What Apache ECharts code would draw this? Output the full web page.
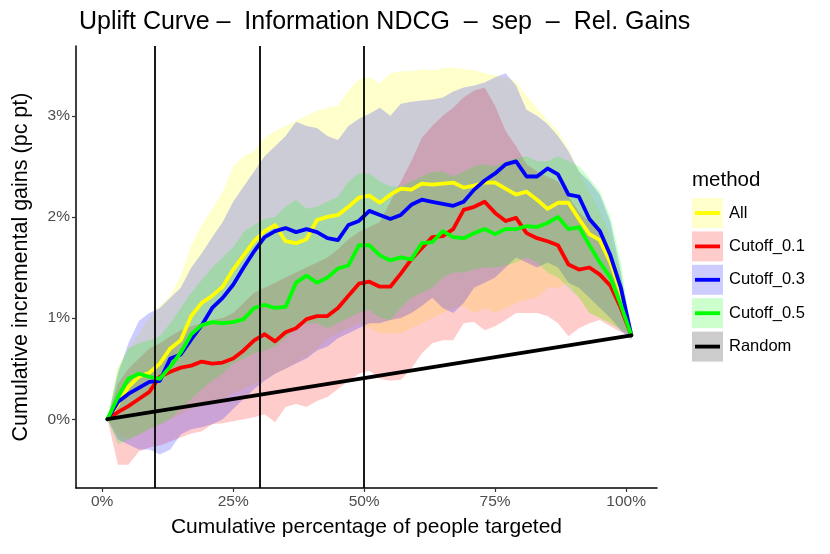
<!DOCTYPE html>
<html><head><meta charset="utf-8">
<script src="https://cdn.jsdelivr.net/npm/echarts@6/dist/echarts.min.js"></script>
<style>html,body{margin:0;padding:0;background:#fff}#c{width:830px;height:554px}</style>
</head><body><div id="c"></div>
<script>
// x positions (percentage of people targeted)
const xs = [1,3,5,7,9,11,13,15,17,19,21,23,25,27,29,31,33,35,37,39,41,43,45,47,49,51,53,55,57,59,61,63,65,67,69,71,73,75,77,79,81,83,85,87,89,91,93,95,97,99,101];

// central lines (cumulative incremental gains, %)
const allLine = [0.00,0.15,0.32,0.42,0.46,0.55,0.70,0.78,1.02,1.15,
 1.22,1.31,1.48,1.62,1.76,1.86,1.92,1.76,1.74,1.78,
 1.97,2.00,2.02,2.10,2.19,2.21,2.14,2.22,2.28,2.27,
 2.33,2.32,2.33,2.34,2.29,2.31,2.34,2.34,2.28,2.22,
 2.25,2.17,2.08,2.14,2.14,1.98,1.83,1.77,1.55,1.25,
 0.83];
const cut01Line = [0.00,0.07,0.13,0.20,0.27,0.42,0.47,0.51,0.53,0.57,
 0.55,0.56,0.60,0.68,0.78,0.84,0.77,0.86,0.90,0.99,
 1.02,1.02,1.10,1.22,1.34,1.36,1.31,1.31,1.44,1.58,
 1.69,1.80,1.81,1.88,2.07,2.10,2.15,2.04,1.96,1.99,
 1.84,1.79,1.76,1.72,1.53,1.48,1.50,1.43,1.32,1.10,
 0.83];
const cut03Line = [0.00,0.17,0.25,0.31,0.37,0.38,0.60,0.64,0.79,0.93,
 1.10,1.20,1.33,1.50,1.66,1.80,1.86,1.89,1.85,1.88,
 1.85,1.79,1.77,1.92,1.96,2.06,2.02,1.98,2.02,2.12,
 2.17,2.15,2.13,2.11,2.15,2.27,2.36,2.43,2.52,2.55,
 2.40,2.40,2.48,2.42,2.22,2.20,1.98,1.86,1.62,1.30,
 0.83];
const cut05Line = [0.00,0.22,0.40,0.45,0.42,0.40,0.52,0.66,0.84,0.93,
 0.96,0.95,0.96,0.99,1.10,1.13,1.10,1.11,1.35,1.42,
 1.35,1.40,1.49,1.52,1.72,1.72,1.62,1.57,1.60,1.58,
 1.74,1.75,1.86,1.80,1.79,1.84,1.88,1.83,1.88,1.88,
 1.91,1.90,1.94,2.00,1.88,1.90,1.72,1.55,1.40,1.13,
 0.83];

// confidence ribbons (lower / upper)
const allLo = [0,-0.15,-0.2,-0.15,-0.1,-0.05,0.0,0.05,0.1,0.15,
 0.18,0.2,0.26,0.3,0.35,0.39,0.45,0.5,0.56,0.62,
 0.7,0.8,0.85,0.9,0.95,0.9,0.85,0.85,0.85,0.9,
 0.95,1.0,1.05,1.1,1.12,1.05,1.1,1.05,1.1,1.15,
 1.18,1.2,1.3,1.3,1.35,1.2,1.05,1.0,0.95,0.9,
 0.83];
const allHi = [0,0.5,0.7,0.85,1.0,1.12,1.22,1.42,1.72,1.92,
 2.08,2.25,2.5,2.6,2.65,2.78,2.85,2.9,2.95,3.0,
 3.05,3.08,3.1,3.25,3.36,3.38,3.32,3.42,3.44,3.44,
 3.46,3.45,3.47,3.48,3.46,3.45,3.42,3.4,3.38,3.34,
 3.2,3.08,2.95,2.85,2.68,2.45,2.25,2.05,1.82,1.42,
 0.83];
const cut01Lo = [0,-0.45,-0.45,-0.32,-0.28,-0.26,-0.22,-0.18,-0.14,-0.12,
 -0.05,-0.04,-0.02,0.0,0.02,0.05,-0.03,0.12,0.15,0.12,
 0.18,0.22,0.3,0.38,0.45,0.48,0.4,0.38,0.39,0.5,
 0.65,0.75,0.78,0.78,0.95,0.96,0.88,0.92,0.98,1.05,
 1.05,1.05,1.02,0.95,0.82,0.9,0.95,0.98,0.92,0.86,
 0.83];
const cut01Hi = [0,0.35,0.5,0.6,0.7,0.75,0.82,0.88,0.92,0.95,
 0.98,1.0,1.05,1.15,1.25,1.3,1.35,1.4,1.45,1.5,
 1.55,1.6,1.68,1.78,1.85,1.9,1.95,2.15,2.35,2.55,
 2.78,2.9,3.0,3.08,3.18,3.25,3.28,3.1,2.85,2.7,
 2.52,2.45,2.4,2.35,2.2,2.05,1.95,1.85,1.65,1.3,
 0.83];
const cut03Lo = [0,-0.2,-0.25,-0.3,-0.3,-0.35,-0.3,-0.15,-0.1,-0.08,
 -0.05,0.0,0.1,0.2,0.3,0.38,0.45,0.5,0.55,0.6,
 0.68,0.72,0.8,0.85,0.9,0.95,0.95,0.98,1.0,1.05,
 1.12,1.2,1.1,1.05,1.15,1.3,1.35,1.4,1.5,1.6,
 1.55,1.5,1.55,1.5,1.35,1.3,1.2,1.1,1.0,0.88,
 0.78];
const cut03Hi = [0,0.45,0.75,0.97,1.05,1.1,1.2,1.3,1.5,1.64,
 1.8,1.95,2.15,2.3,2.45,2.6,2.7,2.8,2.94,2.9,
 2.88,2.8,2.76,2.9,2.97,3.02,3.08,3.0,3.12,3.14,
 3.15,3.16,3.18,3.24,3.28,3.3,3.33,3.38,3.42,3.3,
 3.06,3.0,2.92,2.8,2.65,2.45,2.35,2.22,1.95,1.45,
 0.83];
const cut05Lo = [0,-0.25,-0.2,-0.15,-0.1,-0.05,0.0,0.1,0.2,0.3,
 0.38,0.45,0.55,0.6,0.65,0.68,0.72,0.8,0.9,0.95,
 0.95,0.9,0.95,1.0,1.05,1.08,1.0,0.98,1.1,1.2,
 1.25,1.3,1.4,1.45,1.45,1.48,1.5,1.5,1.52,1.55,
 1.6,1.55,1.45,1.4,1.3,1.2,1.05,1.0,0.95,0.88,
 0.83];
const cut05Hi = [0,0.5,0.7,0.75,0.78,0.82,0.95,1.1,1.25,1.38,
 1.5,1.6,1.7,1.85,1.92,1.98,2.0,2.1,2.17,2.08,
 2.1,2.15,2.2,2.35,2.43,2.43,2.35,2.3,2.3,2.35,
 2.4,2.45,2.45,2.4,2.45,2.5,2.52,2.5,2.55,2.58,
 2.6,2.55,2.55,2.6,2.55,2.5,2.38,2.25,2.0,1.55,
 0.83];

// random baseline
const randomX = [1, 101];
const randomY = [0, 0.83];

const methods = ['All','Cutoff_0.1','Cutoff_0.3','Cutoff_0.5','Random'];
const colors = ['#FFFF00','#FF0000','#0000FF','#00FF00','#000000'];
const xTicks = [0,25,50,75,100];
const yTicks = [0,1,2,3];
const vlines = [10,30,50];

const FONT = "'Liberation Sans', Arial, Helvetica, sans-serif";
const chart = echarts.init(document.getElementById('c'), null, {renderer:'canvas'});

const lines = [allLine, cut01Line, cut03Line, cut05Line];
const los = [allLo, cut01Lo, cut03Lo, cut05Lo];
const his = [allHi, cut01Hi, cut03Hi, cut05Hi];

function ribbonRenderer(color) {
  return function (params, api) {
    if (params.dataIndexInside !== 0) return null;
    const n = params.dataInsideLength;
    const top = [], bot = [];
    for (let j = 0; j < n; j++) {
      const x = api.value(0, j);
      top.push(api.coord([x, api.value(2, j)]));
      bot.push(api.coord([x, api.value(1, j)]));
    }
    const pts = top.concat(bot.reverse());
    return {type:'polygon', shape:{points: pts}, style:{fill: color, opacity: 0.2}, silent:true};
  };
}

const series = [];
for (let i = 0; i < 4; i++) {
  series.push({
    type:'custom', name: methods[i] + ' ribbon', z:1, silent:true, clip:true,
    data: xs.map((x,k)=>[x, los[i][k], his[i][k]]),
    encode:{x:0, y:[1,2]},
    renderItem: ribbonRenderer(colors[i])
  });
}
for (let i = 0; i < 4; i++) {
  series.push({
    type:'line', name: methods[i], data: xs.map((x,k)=>[x, lines[i][k]]),
    symbol:'none', silent:true,
    lineStyle:{color:colors[i], width:3.8, join:'round', cap:'round'}, z:3
  });
}
series.push({
  type:'line', name:'Random', data: randomX.map((x,k)=>[x, randomY[k]]),
  symbol:'none', silent:true, lineStyle:{color:'#000', width:3.8, cap:'round'}, z:3,
  markLine:{symbol:'none', silent:true, label:{show:false}, animation:false,
    lineStyle:{color:'#000', width:1.8, type:'solid'}, z:5,
    data: vlines.map(v=>({xAxis:v}))}
});

// legend drawn as graphics
const graphic = [{type:'text', left:692, top:170, style:{text:'method', font:'20.5px '+FONT, fill:'#000'}}];
methods.forEach((m,i)=>{
  const top = 198 + i*33.4;
  graphic.push({type:'rect', shape:{x:692, y:top, width:31, height:30}, style:{fill:colors[i], opacity:0.2}});
  graphic.push({type:'line', shape:{x1:695, y1:top+15, x2:720, y2:top+15}, style:{stroke:colors[i], lineWidth:3.8}});
  graphic.push({type:'text', x:729, y:top+15, style:{text:m, font:'16.5px '+FONT, fill:'#000', textVerticalAlign:'middle', verticalAlign:'middle'}});
});

chart.setOption({
  animation:false,
  backgroundColor:'#fff',
  title:{text:'Uplift Curve –  Information NDCG  –  sep  –  Rel. Gains', left:74, top:5,
    textStyle:{fontFamily:FONT, fontSize:25, fontWeight:'normal', color:'#000'}},
  grid:{left:76, right:173, top:46, bottom:66, containLabel:false},
  xAxis:{type:'value', min:-5, max:105.9,
    name:'Cumulative percentage of people targeted', nameLocation:'middle', nameGap:29,
    nameTextStyle:{fontFamily:FONT, fontSize:21, color:'#000'},
    axisLine:{show:true, onZero:false, lineStyle:{color:'#000', width:1.5}},
    axisTick:{show:true, customValues:xTicks, length:4, lineStyle:{color:'#333', width:1.2}},
    axisLabel:{customValues:xTicks, formatter:'{value}%', color:'#4D4D4D', fontSize:15.5, fontFamily:FONT, margin:6},
    splitLine:{show:false}},
  yAxis:{type:'value', min:-0.68, max:3.69,
    name:'Cumulative incremental gains (pc pt)', nameLocation:'middle', nameGap:44, nameRotate:90,
    nameTextStyle:{fontFamily:FONT, fontSize:21.5, color:'#000'},
    axisLine:{show:true, onZero:false, lineStyle:{color:'#000', width:1.5}},
    axisTick:{show:true, customValues:yTicks, length:4, lineStyle:{color:'#333', width:1.2}},
    axisLabel:{customValues:yTicks, formatter:'{value}%', color:'#4D4D4D', fontSize:15.5, fontFamily:FONT, margin:6},
    splitLine:{show:false}},
  series: series,
  graphic: graphic
});
</script>
</body></html>
